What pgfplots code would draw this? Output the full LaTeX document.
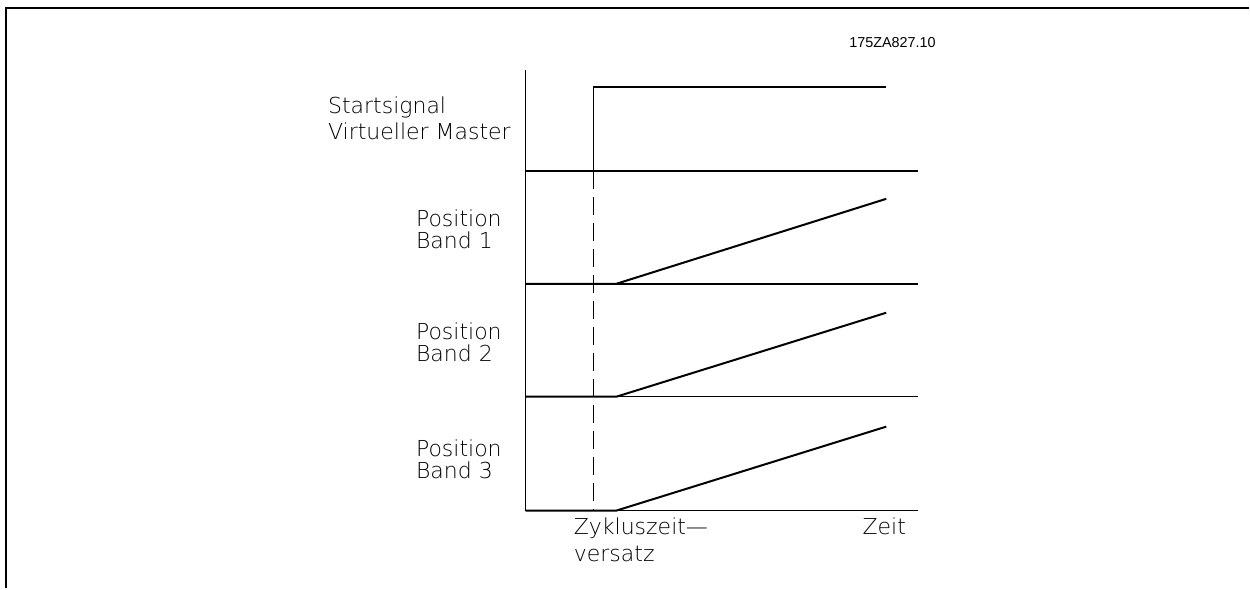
\documentclass[border=0pt]{standalone}
\usepackage{fontspec}
\setmainfont{DejaVu Sans ExtraLight}
\newfontfamily\codefont{Liberation Sans}
\usepackage{pgfplots}
\pgfplotsset{compat=1.18}

\begin{document}
\begin{tikzpicture}[font=\fontsize{11}{13}\selectfont]
\begin{axis}[
  x=0.5pt, y=0.5pt, scale only axis, hide axis, clip=false,
  xmin=0, xmax=1250, ymin=0, ymax=589, y dir=reverse,
]
% page extent
\path (axis cs:0,0) rectangle (axis cs:1250,589);

% sheet frame
\addplot[black, line width=1.1pt] coordinates {(6,589) (6,8) (1250,8)};

% time axis and band separators
\addplot[black, line width=0.75pt] coordinates {(526,70) (526,511)};
\addplot[black, line width=0.75pt] coordinates {(526,171) (919,171)};
\addplot[black, line width=0.75pt] coordinates {(526,284) (919,284)};
\addplot[black, line width=0.75pt] coordinates {(526,397) (919,397)};
\addplot[black, line width=0.75pt] coordinates {(526,511) (919,511)};

% start signal of virtual master
\addplot[black, line width=0.9pt] coordinates {(594,171) (594,87) (887,87)};

% cycle time offset marker
\addplot[black, line width=0.7pt, dash pattern=on 9pt off 4pt] coordinates {(594,171) (594,511)};

% belt positions
\addplot[black, line width=1pt] coordinates {(526,284) (617,284) (887,199)};
\addplot[black, line width=1pt] coordinates {(526,397) (617,397) (887,313)};
\addplot[black, line width=1pt] coordinates {(526,511) (617,511) (887,427)};

% labels
\node[anchor=base west, font=\codefont\fontsize{7.2}{8}\selectfont] at (axis cs:843,48) {175ZA827.10};
\node[anchor=base west, inner sep=0pt] at (axis cs:328,114) {Startsignal};
\node[anchor=base west, inner sep=0pt] at (axis cs:328,140) {Virtueller Master};
\node[anchor=base west, inner sep=0pt] at (axis cs:416,227) {Position};
\node[anchor=base west, inner sep=0pt] at (axis cs:416,249) {Band 1};
\node[anchor=base west, inner sep=0pt] at (axis cs:416,340) {Position};
\node[anchor=base west, inner sep=0pt] at (axis cs:416,362) {Band 2};
\node[anchor=base west, inner sep=0pt] at (axis cs:416,457) {Position};
\node[anchor=base west, inner sep=0pt] at (axis cs:416,479) {Band 3};
\node[anchor=base west, inner sep=0pt] at (axis cs:574,535) {Zykluszeit—};
\node[anchor=base west, inner sep=0pt] at (axis cs:574,562) {versatz};
\node[anchor=base west, inner sep=0pt] at (axis cs:863,535) {Zeit};
\end{axis}
\end{tikzpicture}
\end{document}
